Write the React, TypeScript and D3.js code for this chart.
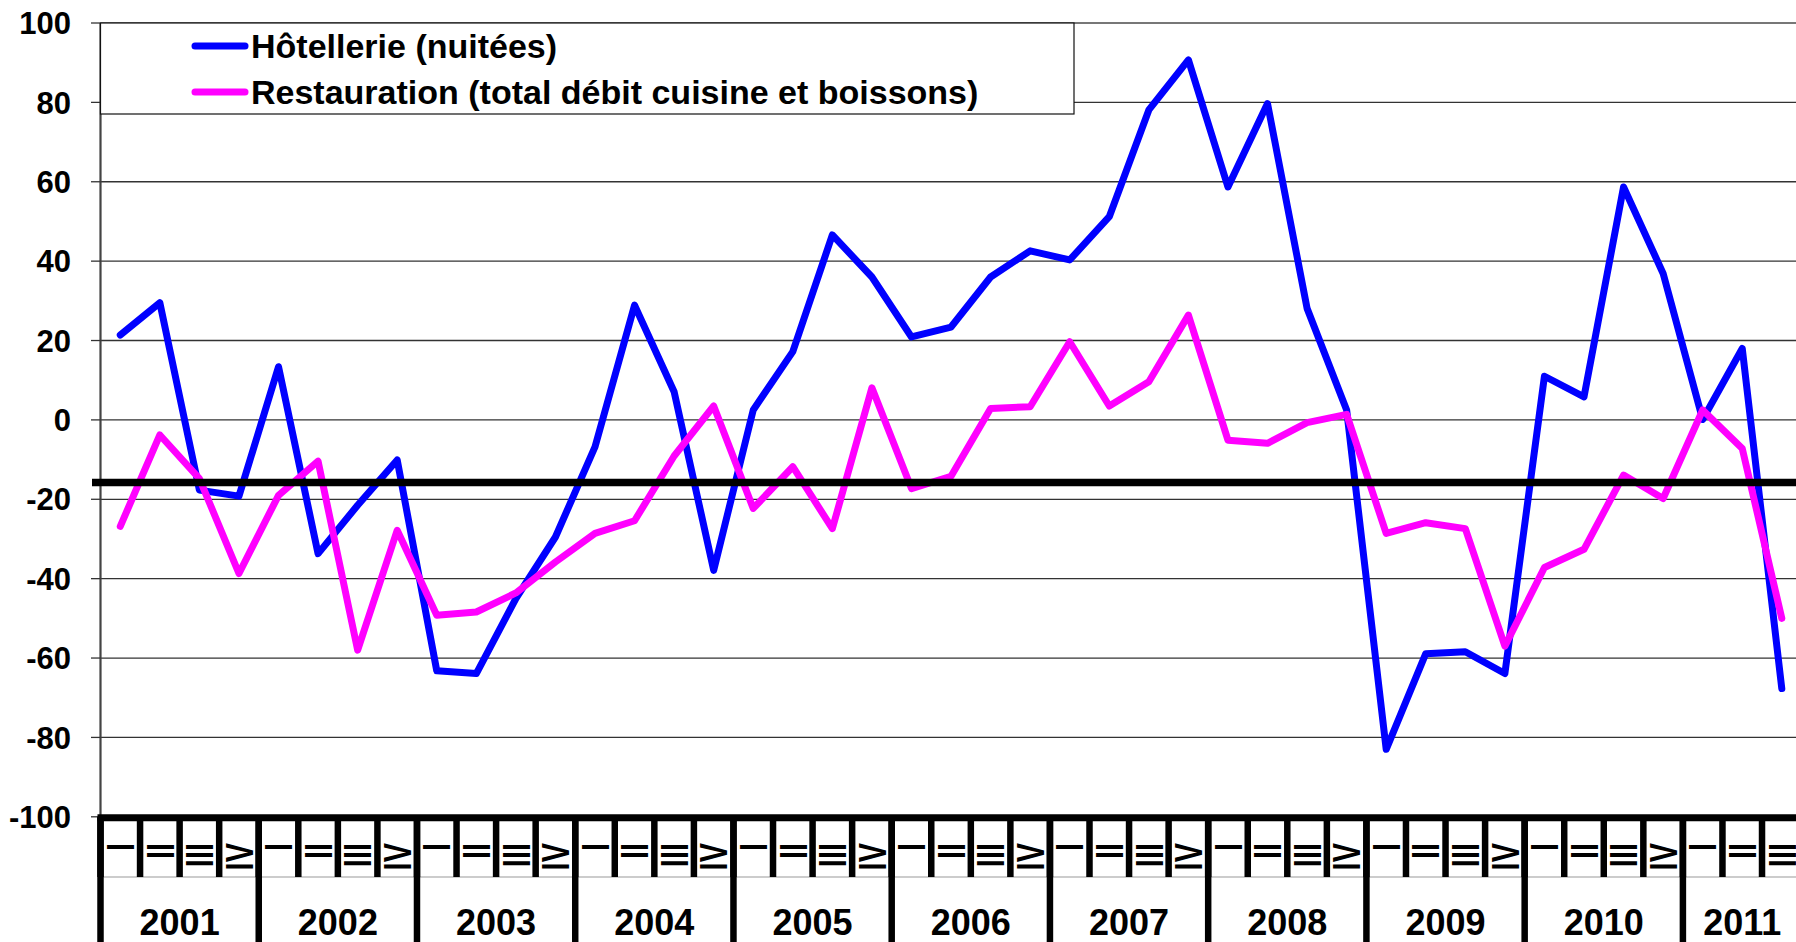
import React, { useEffect } from "react";
import * as d3 from "d3";

const years = ["2001","2002","2003","2004","2005","2006","2007","2008","2009","2010","2011"];
const quarters = ["I","II","III","IV"];
const quartersPerYear = [4,4,4,4,4,4,4,4,4,4,3];
const yTicks = [100,80,60,40,20,0,-20,-40,-60,-80,-100];

const hotellerie = [21.4,29.5,-17.7,-19.2, 13.4,-33.7,-21.5,-10.1, -63.2,-63.9,-45.0,-29.5, -6.8,28.9,7.1,-37.9, 2.5,17.2,46.6,36.0, 20.9,23.4,36.0,42.6, 40.3,51.2,78.1,90.7, 58.7,79.7,28.1,2.5, -83.0,-58.9,-58.4,-63.9, 11.0,5.8,58.7,36.9, 0.1,18.0,-67.7];
const restauration = [-26.8,-3.8,-14.8,-38.7, -19.0,-10.4,-58.0,-27.8, -49.2,-48.4,-43.6,-35.8, -28.6,-25.4,-9.1,3.5, -22.3,-11.8,-27.4,8.1, -17.3,-14.2,2.9,3.3, 19.7,3.5,9.6,26.4, -5.1,-5.9,-0.7,1.4, -28.6,-25.9,-27.4,-57.0, -37.2,-32.6,-13.9,-19.8, 2.5,-7.2,-50.0];
const referenceLevel = -15.8;

const seriesNames = ["Hôtellerie (nuitées)", "Restauration (total débit cuisine et boissons)"];
const seriesColors = ["#0000FF", "#FF00FF"];

const W = 1796, H = 942;
const FONT = "'Liberation Sans', Arial, Helvetica, sans-serif";

export default function App() {
  useEffect(() => {
    document.body.style.margin = "0";
    document.body.style.overflow = "hidden";
  }, []);

  const cats: { year: string; q: string; idx: number }[] = [];
  years.forEach((y, yi) => {
    for (let k = 0; k < quartersPerYear[yi]; k++) cats.push({ year: y, q: quarters[k], idx: cats.length });
  });
  const left = 100.5, step = 39.56;
  const x = d3.scaleBand<number>().domain(cats.map(c => c.idx)).range([left, left + step * cats.length]).padding(0);
  const y = d3.scaleLinear().domain([-100, 100]).range([816.8, 23]);
  const right = left + step * cats.length;
  const cx = (i: number) => (x(i) as number) + x.bandwidth() / 2;

  const line = d3.line<number>().x((_, i) => cx(i)).y(d => y(d));

  const axisY = y(-100);
  const qBottom = 877;

  const yearSpans: { year: string; x0: number; x1: number }[] = [];
  let start = 0;
  years.forEach((yr, yi) => {
    const n = quartersPerYear[yi];
    yearSpans.push({ year: yr, x0: x(start) as number, x1: (x(start + n - 1) as number) + x.bandwidth() });
    start += n;
  });

  const qFs = 29, qSy = 1.32, capH = 0.716 * qFs * qSy;

  return (
    <div style={{ position: "absolute", left: 0, top: 0 }}>
      <svg width={W} height={H} style={{ display: "block", background: "#fff" }} fontFamily={FONT}>
        {yTicks.filter(t => t !== -100).map(t => (
          <line key={t} x1={left} x2={W} y1={y(t)} y2={y(t)} stroke={t === 100 ? "#777" : "#333"} strokeWidth={t === 100 ? 2 : 1.3} />
        ))}
        <line x1={left} x2={left} y1={y(100)} y2={axisY} stroke="#444" strokeWidth={2.2} />
        {yTicks.map(t => (
          <g key={"t" + t}>
            <line x1={91} x2={left} y1={y(t)} y2={y(t)} stroke="#333" strokeWidth={1.3} />
            <text x={71} y={y(t)} dy="0.36em" textAnchor="end" fontSize={31} fontWeight="bold" fill="#000">{t}</text>
          </g>
        ))}

        <rect x={left} y={y(100)} width={1074 - left} height={114 - y(100)} fill="#fff" stroke="#111" strokeWidth={1.2} />
        {seriesNames.map((n, i) => (
          <g key={n}>
            <line x1={195} x2={245} y1={46 + i * 46} y2={46 + i * 46} stroke={seriesColors[i]} strokeWidth={7} strokeLinecap="round" />
            <text x={251} y={58 + i * 46} fontSize={34} fontWeight="bold" fill="#000">{n}</text>
          </g>
        ))}

        <path d={line(hotellerie) || ""} fill="none" stroke={seriesColors[0]} strokeWidth={7} strokeLinejoin="round" strokeLinecap="round" />
        <path d={line(restauration) || ""} fill="none" stroke={seriesColors[1]} strokeWidth={7} strokeLinejoin="round" strokeLinecap="round" />

        <line x1={92} x2={W} y1={y(referenceLevel)} y2={y(referenceLevel)} stroke="#000" strokeWidth={7.5} />

        <line x1={left} x2={W} y1={qBottom} y2={qBottom} stroke="#999" strokeWidth={1} />
        {cats.map(c => (
          <line key={"qs" + c.idx} x1={x(c.idx) as number} x2={x(c.idx) as number} y1={axisY} y2={qBottom} stroke="#000" strokeWidth={6.5} />
        ))}
        {yearSpans.map(s => (
          <line key={"ys" + s.year} x1={s.x0} x2={s.x0} y1={axisY} y2={H} stroke="#000" strokeWidth={6.5} />
        ))}
        <line x1={right} x2={right} y1={axisY} y2={H} stroke="#000" strokeWidth={6.5} />
        <line x1={left - 3} x2={W} y1={axisY + 1} y2={axisY + 1} stroke="#000" strokeWidth={7} />
        {cats.map(c => (
          <text key={"ql" + c.idx} transform={`translate(${cx(c.idx) + capH / 2},${843}) rotate(-90) scale(1,${qSy})`}
            textAnchor="end" fontSize={qFs} fontWeight="bold" fill="#000">{c.q}</text>
        ))}
        {yearSpans.map(s => (
          <text key={"yl" + s.year} x={(s.x0 + s.x1) / 2} y={935} textAnchor="middle" fontSize={36} fontWeight="bold" fill="#000">{s.year}</text>
        ))}
      </svg>
    </div>
  );
}
